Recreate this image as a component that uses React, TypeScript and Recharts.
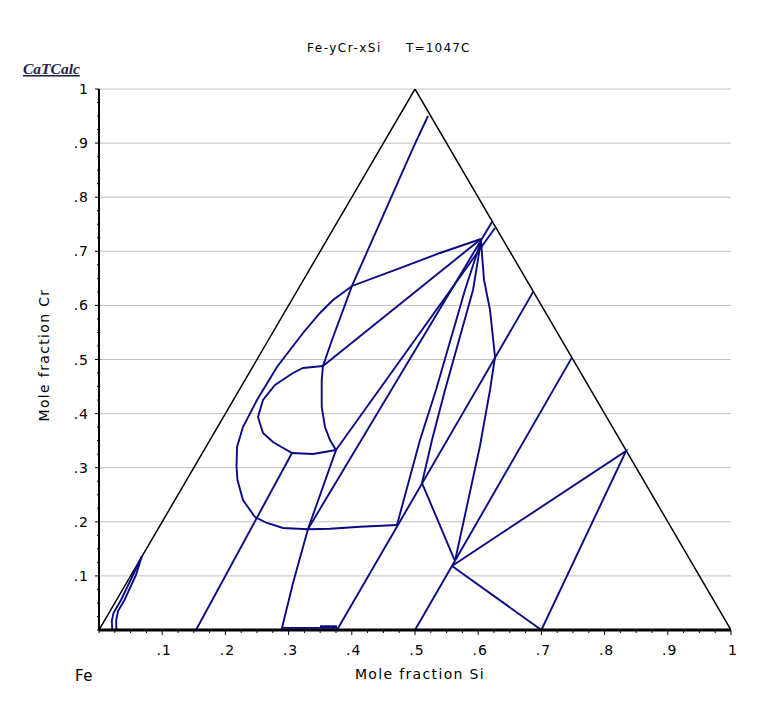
import { LineChart, Line, XAxis, YAxis, ReferenceLine } from 'recharts'

// plot coords: x = horizontal ternary position (Si + Cr/2), y = mole fraction Cr
type P = { x: number; y: number }
const pts = (a: number[][]): P[] => a.map(([x, y]) => ({ x, y }))

const triangle = pts([[0, 0], [0.5, 1], [1, 0]])

// upper phase boundary, down to the Fe-Si edge
const topBoundary = pts([
  [0.5206, 0.9501], [0.4968, 0.8909], [0.4604, 0.7948], [0.4003, 0.6359],
  [0.3687, 0.536], [0.3544, 0.488], [0.3524, 0.4621], [0.3524, 0.4122],
  [0.3576, 0.3752], [0.3655, 0.3512], [0.375, 0.3327], [0.3307, 0.1867],
  [0.307, 0.0869], [0.2896, 0.004], [0.3766, 0.004],
])
const edgeBit = pts([[0.3497, 0.007], [0.3766, 0.007]])

const outerBoundary = pts([
  [0.6044, 0.7227], [0.5396, 0.6969], [0.4763, 0.6691], [0.4003, 0.6359],
  [0.3703, 0.61], [0.3497, 0.586], [0.3228, 0.549], [0.2816, 0.4861],
  [0.25, 0.4251], [0.2278, 0.3752], [0.2184, 0.3383], [0.2176, 0.3013],
  [0.2191, 0.2773], [0.2278, 0.2403], [0.2468, 0.2089], [0.2658, 0.1978],
  [0.2911, 0.1885], [0.3307, 0.1861], [0.3655, 0.1872], [0.413, 0.1909],
  [0.4715, 0.1941],
])

const innerLoop = pts([
  [0.3544, 0.488], [0.3228, 0.4843], [0.307, 0.475], [0.2785, 0.4529],
  [0.2595, 0.4251], [0.2516, 0.3937], [0.2595, 0.3641], [0.2753, 0.3475],
  [0.3054, 0.3272], [0.3386, 0.3253], [0.375, 0.3327],
])

const tie1 = pts([[0.3544, 0.488], [0.6044, 0.7227]])
const tie2 = pts([[0.6266, 0.7431], [0.375, 0.3327]])
const tie3 = pts([[0.6218, 0.7542], [0.3307, 0.1867]])
const tie4 = pts([[0.6044, 0.719], [0.5791, 0.6285], [0.5332, 0.4436], [0.5079, 0.3512], [0.4715, 0.1941]])
const tie5 = pts([[0.6044, 0.719], [0.5918, 0.6285], [0.5475, 0.4436], [0.5269, 0.3512], [0.5111, 0.2717]])
const tie6 = pts([
  [0.6044, 0.719], [0.6092, 0.647], [0.6187, 0.5915], [0.6266, 0.5046],
  [0.6187, 0.4436], [0.6028, 0.3401], [0.5633, 0.1275],
])
const tie7 = pts([[0.687, 0.625], [0.3766, 0]])
const tie8 = pts([[0.5111, 0.2717], [0.5633, 0.1275]])
const tie9 = pts([[0.5, 0], [0.5585, 0.1183], [0.748, 0.503]])
const tieTriangle = pts([[0.5585, 0.1183], [0.834, 0.331], [0.7, 0], [0.5585, 0.1183]])
const tie10 = pts([[0.3054, 0.3272], [0.1535, 0]])

const feA = pts([[0.0676, 0.1355], [0.0538, 0.1017], [0.0348, 0.0555], [0.0229, 0.0314], [0.0203, 0.0166], [0.021, 0]])
const feB = pts([[0.0676, 0.1355], [0.0585, 0.1017], [0.0403, 0.0555], [0.0301, 0.0351], [0.0272, 0.0185], [0.0274, 0]])

const blueLines = [
  topBoundary, edgeBit, outerBoundary, innerLoop, tie1, tie2, tie3, tie4, tie5,
  tie6, tie7, tie8, tie9, tieTriangle, tie10, feA, feB,
]

const ticks = Array.from({ length: 41 }, (_, i) => i / 40)
const tickLabels = ['.1', '.2', '.3', '.4', '.5', '.6', '.7', '.8', '.9', '1']
const gridValues = [0.1, 0.2, 0.3, 0.4, 0.5, 0.6, 0.7, 0.8, 0.9, 1]

const FONT = 'DejaVu Sans, Verdana, sans-serif'
const NAVY = '#0a0a84'

function labelFor(v: number) {
  const k = Math.round(v * 10)
  if (Math.abs(v * 10 - k) > 1e-6 || k === 0) return null
  return tickLabels[k - 1]
}

function XTick({ x, y, payload }: any) {
  const lab = labelFor(payload.value)
  return (
    <g>
      <line x1={x} x2={x} y1={y} y2={y + (lab ? 5 : 3)} stroke="#000" />
      {lab && (
        <text x={x + 2} y={y + 25} textAnchor="middle" fontSize={14} letterSpacing={1}
          fontFamily={FONT} fill="#000">
          {lab}
        </text>
      )}
    </g>
  )
}

function YTick({ x, y, payload }: any) {
  const lab = labelFor(payload.value)
  return (
    <g>
      <line x1={x - (lab ? 4 : 2)} x2={x} y1={y} y2={y} stroke="#000" />
      {lab && (
        <text x={x - 10} y={y + 5} textAnchor="end" fontSize={14} letterSpacing={1}
          fontFamily={FONT} fill="#000">
          {lab}
        </text>
      )}
    </g>
  )
}

export default function App() {
  return (
    <div style={{ position: 'absolute', left: 0, top: 0, width: 770, height: 720, background: '#fff' }}>
      <LineChart width={770} height={720} margin={{ top: 89, right: 39, bottom: 0, left: 0 }}>
        <XAxis
          dataKey="x"
          type="number"
          domain={[0, 1]}
          ticks={ticks}
          interval={0}
          height={90}
          tick={<XTick />}
          tickSize={0}
          tickMargin={0}
          tickLine={false}
          axisLine={{ stroke: '#000', strokeWidth: 3 }}
          allowDataOverflow
        />
        <YAxis
          dataKey="y"
          type="number"
          domain={[0, 1]}
          ticks={ticks}
          interval={0}
          width={99}
          tick={<YTick />}
          tickSize={0}
          tickMargin={0}
          tickLine={false}
          axisLine={{ stroke: '#000', strokeWidth: 2 }}
          allowDataOverflow
        />
        {gridValues.map((g) => (
          <ReferenceLine key={g} y={g} stroke="#c0c0c0" strokeWidth={1} />
        ))}
        <Line
          data={triangle}
          dataKey="y"
          type="linear"
          stroke="#000"
          strokeWidth={1.5}
          dot={false}
          activeDot={false}
          isAnimationActive={false}
        />
        {blueLines.map((d, i) => (
          <Line
            key={i}
            data={d}
            dataKey="y"
            type="linear"
            stroke={NAVY}
            strokeWidth={1.9}
            dot={false}
            activeDot={false}
            isAnimationActive={false}
          />
        ))}
      </LineChart>
      <svg width={770} height={720} style={{ position: 'absolute', left: 0, top: 0, pointerEvents: 'none' }}>
        <text x={307} y={52} fontSize={12} letterSpacing={1.5} fontFamily={FONT} fill="#000">Fe-yCr-xSi</text>
        <text x={406} y={52} fontSize={12} letterSpacing={1.2} fontFamily={FONT} fill="#000">T=1047C</text>
        <text
          x={23}
          y={74}
          fontSize={15.5}
          fontFamily="Liberation Serif, serif"
          fontStyle="italic"
          fontWeight="bold"
          textDecoration="underline"
          fill="#22224a"
        >
          CaTCalc
        </text>
        <text x={75} y={681} fontSize={15} letterSpacing={0.5} fontFamily={FONT} fill="#000">Fe</text>
        <text x={420} y={679} textAnchor="middle" fontSize={14} letterSpacing={1.35}
          fontFamily={FONT} fill="#000">
          Mole fraction Si
        </text>
        <text
          x={49}
          y={355}
          textAnchor="middle"
          fontSize={14}
          letterSpacing={1.35}
          fontFamily={FONT}
          fill="#000"
          transform="rotate(-90 49 355)"
        >
          Mole fraction Cr
        </text>
      </svg>
    </div>
  )
}
